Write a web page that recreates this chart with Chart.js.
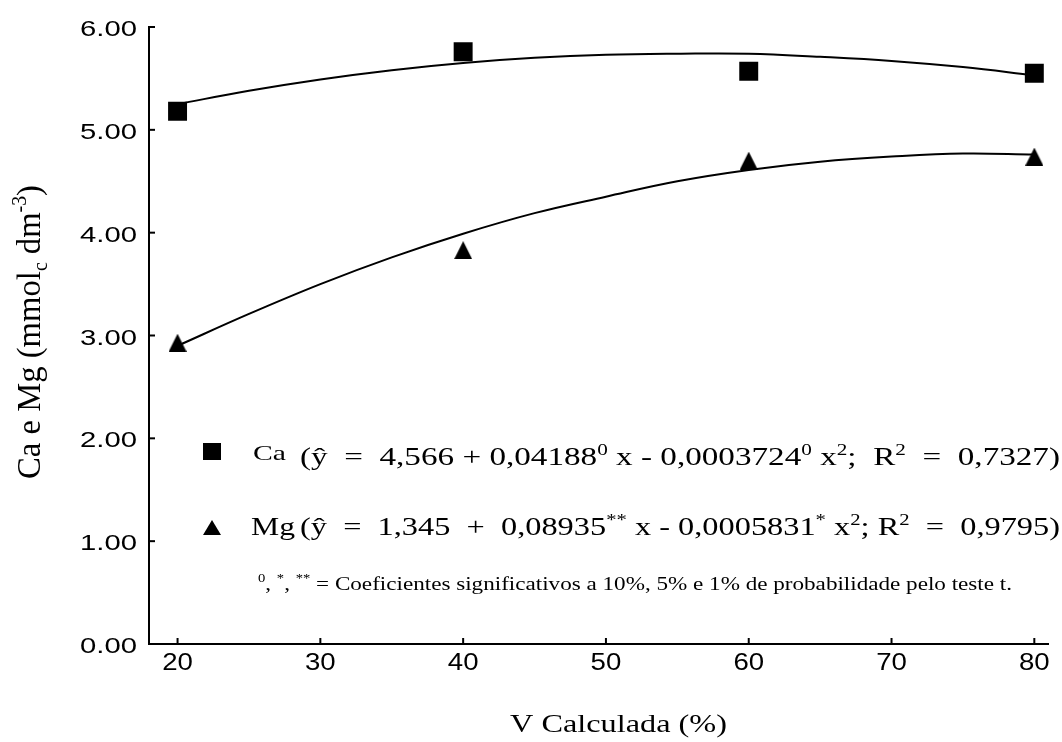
<!DOCTYPE html>
<html>
<head>
<meta charset="utf-8">
<script src="https://cdn.jsdelivr.net/npm/chart.js@4.4.1/dist/chart.umd.min.js"></script>
<style>
  html, body { margin: 0; padding: 0; background: #fff; }
  #wrap { width: 1062px; height: 742px; }
</style>
</head>
<body>
<div id="wrap"><canvas id="chart" width="1062" height="742"></canvas></div>
<script>
// observed means
const doses = [20, 40, 60, 80];
const caValues = [5.18, 5.76, 5.57, 5.55];
const mgValues = [2.93, 3.83, 4.70, 4.74];

// fitted curves, every 5 units
const curveX = [20, 25, 30, 35, 40, 45, 50, 55, 60, 65, 70, 75, 80];
const caCurve = [5.25, 5.38, 5.49, 5.58, 5.65, 5.70, 5.73, 5.74, 5.74, 5.71, 5.67, 5.61, 5.53];
const mgCurve = [2.90, 3.21, 3.50, 3.76, 3.99, 4.19, 4.35, 4.50, 4.61, 4.69, 4.74, 4.77, 4.76];

const xTicks = [20, 30, 40, 50, 60, 70, 80];
const yTicks = [0, 1, 2, 3, 4, 5, 6];

// legend texts: [text, 'sup' | 'sub' | undefined]
const caEq = [['(ŷ  =  4,566 + 0,04188'], ['0', 'sup'], [' x - 0,0003724'], ['0', 'sup'], [' x'], ['2', 'sup'], [';  R'], ['2', 'sup'], ['  =  0,7327)']];
const mgEq = [['(ŷ  =  1,345  +  0,08935'], ['**', 'sup'], [' x - 0,0005831'], ['*', 'sup'], [' x'], ['2', 'sup'], ['; R'], ['2', 'sup'], ['  =  0,9795)']];
const footNote = [['0', 'sup'], [', '], ['*', 'sup'], [', '], ['**', 'sup'], [' = Coeficientes significativos a 10%, 5% e 1% de probabilidade pelo teste t.']];
const yTitle = [['Ca e Mg (mmol'], ['c', 'sub'], [' dm'], ['-3', 'sup'], [')']];
const xTitle = [['V Calculada (%)']];

const SERIF = '"Liberation Serif", "Times New Roman", serif';
const SANS = '"Liberation Sans", Arial, sans-serif';

function toPoints(xs, ys) {
    return xs.map((x, i) => ({ x: x, y: ys[i] }));
}

// filled triangle used as point style for Mg
function makeTriangle(w, h) {
    const c = document.createElement('canvas');
    c.width = w;
    c.height = h;
    const g = c.getContext('2d');
    g.fillStyle = '#000';
    g.beginPath();
    g.moveTo(w / 2, 0);
    g.lineTo(w, h);
    g.lineTo(0, h);
    g.closePath();
    g.fill();
    return c;
}

// draws text with super/subscripts, squeezed or stretched to a given width
function drawRich(ctx, parts, x, y, size, width, rotate) {
    ctx.save();
    ctx.fillStyle = '#000';
    ctx.textAlign = 'left';
    ctx.textBaseline = 'alphabetic';
    const measure = p => {
        ctx.font = (p[1] ? Math.round(size * 0.62) : size) + 'px ' + SERIF;
        return ctx.measureText(p[0]).width;
    };
    const natural = parts.reduce((s, p) => s + measure(p), 0);
    ctx.translate(x, y);
    if (rotate) ctx.rotate(-Math.PI / 2);
    ctx.scale(width / natural, 1);
    let cx = 0;
    parts.forEach(p => {
        const w = measure(p);
        let dy = 0;
        if (p[1] === 'sup') dy = -size * 0.42;
        if (p[1] === 'sub') dy = size * 0.2;
        ctx.fillText(p[0], cx, dy);
        cx += w;
    });
    ctx.restore();
}

// one tick label, stretched sideways like the original figure
function drawLabel(ctx, text, x, y, size, sx, align) {
    ctx.save();
    ctx.font = size + 'px ' + SANS;
    ctx.fillStyle = '#000';
    ctx.textBaseline = 'alphabetic';
    ctx.textAlign = align;
    ctx.translate(x, y);
    ctx.scale(sx, 1);
    ctx.fillText(text, 0, 0);
    ctx.restore();
}

const axisDecor = {
    id: 'axisDecor',
    afterDraw(chart) {
        const ctx = chart.ctx;
        const xs = chart.scales.x;
        const ys = chart.scales.y;
        ctx.save();
        ctx.strokeStyle = '#000';
        ctx.lineWidth = 2;
        xs.ticks.forEach(t => {
            const px = xs.getPixelForValue(t.value);
            ctx.beginPath();
            ctx.moveTo(px, xs.top);
            ctx.lineTo(px, xs.top - 6);
            ctx.stroke();
            drawLabel(ctx, String(t.value), px, 670, 23, 1.2, 'center');
        });
        ys.ticks.forEach(t => {
            const py = ys.getPixelForValue(t.value);
            ctx.beginPath();
            ctx.moveTo(ys.right, py);
            ctx.lineTo(ys.right + 6, py);
            ctx.stroke();
            drawLabel(ctx, t.value.toFixed(2), 137, py + 9, 22.5, 1.3, 'right');
        });
        ctx.restore();
    }
};

const textLayer = {
    id: 'textLayer',
    afterDraw(chart) {
        const ctx = chart.ctx;
        drawRich(ctx, yTitle, 40, 479, 33, 294, true);
        drawRich(ctx, xTitle, 510, 732, 25, 217);

        // legend symbols
        ctx.save();
        ctx.fillStyle = '#000';
        ctx.fillRect(203, 443, 18, 17);
        ctx.beginPath();
        ctx.moveTo(212, 520);
        ctx.lineTo(221, 535);
        ctx.lineTo(203, 535);
        ctx.closePath();
        ctx.fill();
        ctx.restore();

        drawRich(ctx, [['Ca']], 253, 460, 21, 33);
        drawRich(ctx, caEq, 300, 465, 25, 760);
        drawRich(ctx, [['Mg']], 251, 535, 25, 44);
        drawRich(ctx, mgEq, 300, 535, 25, 760);
        drawRich(ctx, footNote, 258, 590, 19, 754);
    }
};

document.addEventListener('DOMContentLoaded', function() {
    const ctx = document.getElementById('chart').getContext('2d');
    new Chart(ctx, {
        type: 'scatter',
        data: {
            datasets: [
                {
                    label: 'Ca',
                    data: toPoints(doses, caValues),
                    pointStyle: 'rect',
                    pointRadius: 13.4,
                    backgroundColor: '#000',
                    borderWidth: 0
                },
                {
                    label: 'Mg',
                    data: toPoints(doses, mgValues),
                    pointStyle: makeTriangle(18, 18),
                    backgroundColor: '#000',
                    borderWidth: 0
                },
                {
                    label: 'Ca fit',
                    data: toPoints(curveX, caCurve),
                    showLine: true,
                    pointRadius: 0,
                    borderColor: '#000',
                    borderWidth: 2,
                    tension: 0.4
                },
                {
                    label: 'Mg fit',
                    data: toPoints(curveX, mgCurve),
                    showLine: true,
                    pointRadius: 0,
                    borderColor: '#000',
                    borderWidth: 2,
                    tension: 0.4
                }
            ]
        },
        options: {
            responsive: false,
            animation: false,
            devicePixelRatio: 1,
            layout: { padding: { top: 27, right: 0, bottom: 0, left: 0 } },
            plugins: {
                legend: { display: false },
                tooltip: { enabled: false }
            },
            scales: {
                x: {
                    type: 'linear',
                    min: 18,
                    max: 81,
                    afterBuildTicks: s => { s.ticks = xTicks.map(v => ({ value: v })); },
                    afterFit: s => { s.height = 98; s.paddingLeft = 0; s.paddingRight = 0; },
                    grid: { display: false, drawTicks: false },
                    border: { display: true, color: '#000', width: 2 },
                    ticks: { display: false }
                },
                y: {
                    min: 0,
                    max: 6,
                    afterBuildTicks: s => { s.ticks = yTicks.map(v => ({ value: v })); },
                    afterFit: s => { s.width = 149; s.paddingTop = 0; s.paddingBottom = 0; },
                    grid: { display: false, drawTicks: false },
                    border: { display: true, color: '#000', width: 2 },
                    ticks: { display: false }
                }
            }
        },
        plugins: [axisDecor, textLayer]
    });
});
</script>
</body>
</html>
